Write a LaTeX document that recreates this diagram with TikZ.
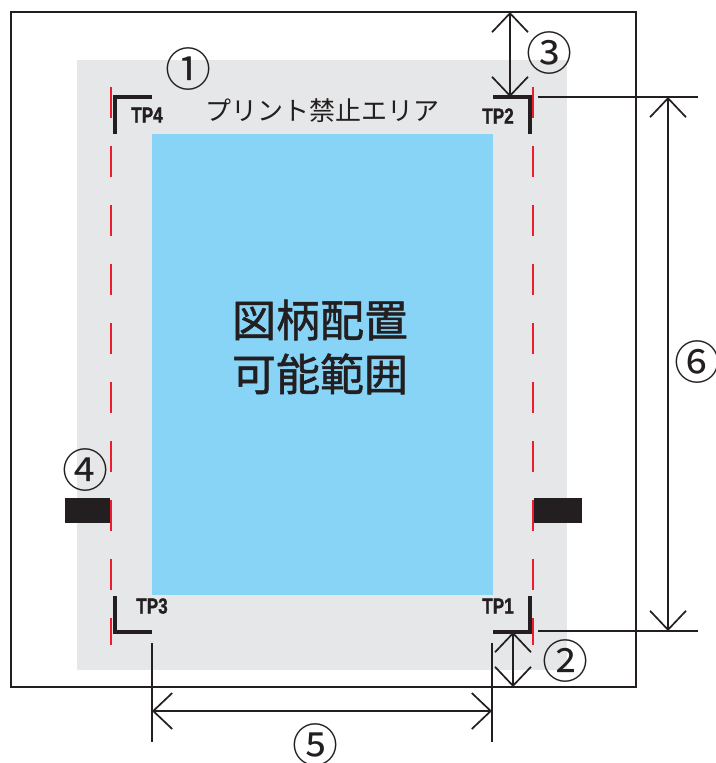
\documentclass[tikz,border=0pt]{standalone}
\usepackage{fontspec}
\setmainfont{Liberation Sans}
\newfontfamily\jpfont{Noto Sans CJK JP}
\newfontfamily\jpmid{Noto Sans CJK JP}[FakeBold=1.2]
\newfontfamily\tpfont{Liberation Sans Bold}[FakeStretch=0.78, FakeBold=1.2]
\usepackage{xcolor}
\usepackage{tikz}
\usetikzlibrary{positioning}
\usetikzlibrary{arrows.meta}
\definecolor{inkblack}{HTML}{231F20}
\definecolor{bangray}{HTML}{E6E7E8}
\definecolor{areablue}{HTML}{87D4F7}
\definecolor{cutred}{HTML}{EE1C2E}
\tikzset{>={Straight Barb[length=19pt,width=36pt]}}
\tikzstyle{dimline} = [draw=inkblack, line width=1.7pt, <->]
\tikzstyle{extline} = [draw=inkblack, line width=1.7pt]
\tikzstyle{tpmark} = [draw=inkblack, line width=3.5pt]
\tikzstyle{cutline} = [draw=cutred, line width=2.6pt, dash pattern=on 31pt off 28pt]
\tikzstyle{tplabel} = [font=\tpfont\fontsize{22}{22}\selectfont,
  text=inkblack, inner sep=0pt]
\tikzstyle{numlabel} = [font=\jpfont\fontsize{46}{46}\selectfont,
  text=inkblack, inner sep=0pt]

\begin{document}
\begin{tikzpicture}[x=1pt, y=-1pt]
  \useasboundingbox (0,0) rectangle (715,763);
  %% Sheet and areas
  \draw [inkblack, line width=2pt] (11,12) rectangle (636,687);
  \fill [bangray] (77,60) rectangle (567,670);
  \fill [areablue] (152,134) rectangle (493,595);
  %% Tabs
  \fill [inkblack] (65,498) rectangle (110,523);
  \fill [inkblack] (534,498) rectangle (582,523);
  %% Cut lines
  \coordinate (cutL_1) at (111,87);
  \coordinate (cutL_2) at (111,645);
  \coordinate (cutR_1) at (533,87);
  \coordinate (cutR_2) at (533,645);
  \path [cutline] (cutL_1) -- (cutL_2);
  \path [cutline] (cutR_1) -- (cutR_2);
  %% Corner marks
  \draw [tpmark] (152,97) -- (115,97) -- (115,134);
  \draw [tpmark] (493,97) -- (530,97) -- (530,134);
  \draw [tpmark] (115,596) -- (115,632) -- (152,632);
  \draw [tpmark] (530,596) -- (530,632) -- (493,632);
  \node [tplabel] (TP4) at (147,115) {TP4};
  \node [tplabel] (TP2) at (498,116) {TP2};
  \node [tplabel] (TP3) at (152,606) {TP3};
  \node [tplabel] (TP1) at (498,606) {TP1};
  %% Texts
  \node [font=\jpfont\fontsize{26}{26}\selectfont, text=inkblack,
  inner sep=0pt] (ban) at (322,111) {プリント禁止エリア};
  \node [font=\jpmid\fontsize{44}{54}\selectfont, text=inkblack,
  align=center, inner sep=0pt] (place) at (320,347) {図柄配置\\可能範囲};
  %% Dimension points
  \coordinate (D3_1) at (510,12);
  \coordinate (D3_2) at (510,97);
  \coordinate (E6_1) at (538,97);
  \coordinate (E6_2) at (698,97);
  \coordinate (E6_3) at (538,631);
  \coordinate (E6_4) at (698,631);
  \coordinate (D6_1) at (668,97);
  \coordinate (D6_2) at (668,631);
  \coordinate (D2_1) at (513,632);
  \coordinate (D2_2) at (513,687);
  \coordinate (E5_1) at (152,643);
  \coordinate (E5_2) at (152,742);
  \coordinate (E5_3) at (492,643);
  \coordinate (E5_4) at (492,742);
  \coordinate (D5_1) at (152,711);
  \coordinate (D5_2) at (492,711);
  %% Extension lines
  \path [extline] (E6_1) to (E6_2);
  \path [extline] (E6_3) to (E6_4);
  \path [extline] (E5_1) to (E5_2);
  \path [extline] (E5_3) to (E5_4);
  %% Arrows
  \path [dimline] (D3_1) to (D3_2);
  \path [dimline] (D6_1) to (D6_2);
  \path [dimline] (D2_1) to (D2_2);
  \path [dimline] (D5_1) to (D5_2);
  %% Numbers
  \node [numlabel] (N1) at (188,69) {①};
  \node [numlabel] (N2) at (565,661) {②};
  \node [numlabel] (N3) at (549,53) {③};
  \node [numlabel] (N4) at (85,470) {④};
  \node [numlabel] (N5) at (315,745) {⑤};
  \node [numlabel] (N6) at (697,362) {⑥};
\end{tikzpicture}
\end{document}
